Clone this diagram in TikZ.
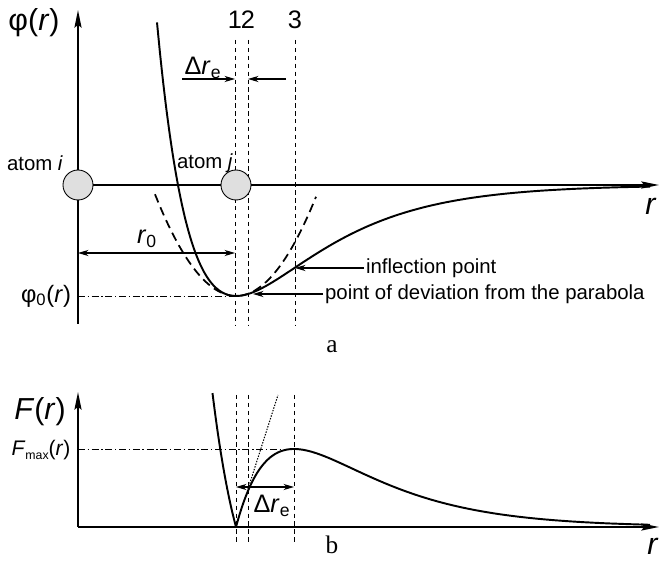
\documentclass[tikz,border=0pt]{standalone}
\usepackage{fontspec}
\setmainfont{Liberation Sans}
\newfontfamily\capfont{Liberation Serif}
\usetikzlibrary{arrows.meta}

\begin{document}
\begin{tikzpicture}[
      x=0.02cm, y=-0.02cm,
      axis/.style={line width=1.1pt, -{Stealth[length=10pt, width=4pt, inset=1.5pt]}},
      curve/.style={line width=1.1pt},
      parab/.style={line width=1pt, dash pattern=on 5pt off 3pt},
      guide/.style={line width=0.4pt, dash pattern=on 2.5pt off 2pt},
      level/.style={line width=0.4pt, dash pattern=on 4pt off 1.5pt on 0.8pt off 1.5pt},
      tangent/.style={line width=0.6pt, dash pattern=on 0.8pt off 0.8pt},
      dim/.style={line width=0.6pt, -{Stealth[length=6pt, width=3.5pt]}},
      dimboth/.style={dim, {Stealth[length=6pt, width=3.5pt]}-{Stealth[length=6pt, width=3.5pt]}},
      atom/.style={circle, draw, line width=0.5pt, fill=gray!25, minimum size=0.6cm, inner sep=0pt},
      lbl/.style={font=\fontsize{11.6}{14}\selectfont, inner sep=1pt},
      num/.style={font=\Large, inner sep=1pt},
      caption/.style={font=\capfont\Large, inner sep=1pt}
    ]
    \useasboundingbox (0,0) rectangle (664,563);

    % panel a: potential
    \coordinate (oA) at (78,185);
    \coordinate (yA) at (78,10);
    \coordinate (yAbot) at (78,324);
    \coordinate (xA) at (659,185);
    \coordinate (minA) at (236,296);
    \coordinate (lvlA) at (78,296);
    \coordinate (infl) at (295,268);
    \coordinate (dev) at (253,294);

    \foreach \xx/\tag in {235/1, 248/2, 295/3}{
      \draw[guide] (\xx,40) -- (\xx,325);
      \node[num] (numA\tag) at (\xx,20) {\tag};
    }
    \draw[level] (lvlA) -- (minA);

    \draw[axis] (yAbot) -- (yA);
    \draw[axis] (oA) -- (xA);

    \draw[parab] plot[domain=155:316, samples=60] (\x, {296-0.0155*(\x-236)*(\x-236)});
    \draw[curve] plot[domain=157:650, samples=160, smooth]
      (\x, {185+111*(2*exp(-0.01195*(\x-236))-exp(-0.0239*(\x-236)))});

    % distance marks
    \coordinate (reLa) at (182,79);
    \coordinate (reLb) at (235,79);
    \coordinate (reRa) at (286,79);
    \coordinate (reRb) at (248,79);
    \draw[dim] (reLa) -- (reLb);
    \draw[dim] (reRa) -- (reRb);
    \node[num] (reA) at (203,68) {Δ\textit{r}\textsubscript{e}};

    \coordinate (rzL) at (78,253);
    \coordinate (rzR) at (235,253);
    \draw[dimboth] (rzL) -- (rzR);
    \node[num] (rzero) at (147,239) {\textit{r}\textsubscript{0}};

    \node[lbl, anchor=west] (inflTxt) at (364,268) {inflection point};
    \node[lbl, anchor=west] (devTxt) at (323,294) {point of deviation from the parabola};
    \draw[dim] (inflTxt.west) -- (infl);
    \draw[dim] (devTxt.west) -- (dev);

    \node[atom] (atomi) at (oA) {};
    \node[atom] (atomj) at (236,185) {};
    \node[lbl] (atomiTxt) at (35,163) {atom \textit{i}};
    \node[lbl] (atomjTxt) at (205,163) {atom \textit{j}};

    \node[font=\LARGE, inner sep=1pt] (phiTxt) at (34,23) {φ(\textit{r})};
    \node[font=\fontsize{13.5}{15}\selectfont, inner sep=1pt] (phiZero) at (46,296) {φ\textsubscript{0}(\textit{r})};
    \node[font=\LARGE, inner sep=1pt] (rA) at (651,206) {\textit{r}};
    \node[caption] (capA) at (332,347) {a};

    % panel b: force
    \coordinate (oB) at (78,527);
    \coordinate (yB) at (78,392);
    \coordinate (xB) at (659,527);
    \coordinate (maxB) at (294,449);
    \coordinate (lvlB) at (78,449);

    \foreach \xx in {236, 248, 294}{
      \draw[guide] (\xx,395) -- (\xx,542);
    }
    \draw[level] (lvlB) -- (maxB);
    \draw[axis] (oB) -- (yB);
    \draw[axis] (oB) -- (xB);

    \draw[curve] plot[domain=212.5:236, samples=25]
      (\x, {527-312*abs(exp(-0.01195*(\x-236))-exp(-0.0239*(\x-236)))})
      -- plot[domain=236:650, samples=160, smooth]
      (\x, {527-312*abs(exp(-0.01195*(\x-236))-exp(-0.0239*(\x-236)))});

    \coordinate (tanA) at (248,489);
    \coordinate (tanB) at (278,395);
    \draw[tangent] (tanA) -- (tanB);

    \coordinate (reBa) at (236,487);
    \coordinate (reBb) at (294,487);
    \draw[dimboth] (reBa) -- (reBb);
    \node[num] (reB) at (272,506) {Δ\textit{r}\textsubscript{e}};

    \node[font=\LARGE, inner sep=1pt] (FTxt) at (40,412) {\textit{F}(\textit{r})};
    \node[font=\large, inner sep=1pt] (FmaxTxt) at (41,450) {\textit{F}\raisebox{-0.35ex}{\scriptsize max}(\textit{r})};
    \node[font=\LARGE, inner sep=1pt] (rB) at (653,546) {\textit{r}};
    \node[caption] (capB) at (332,545) {b};
  \end{tikzpicture}
\end{document}
